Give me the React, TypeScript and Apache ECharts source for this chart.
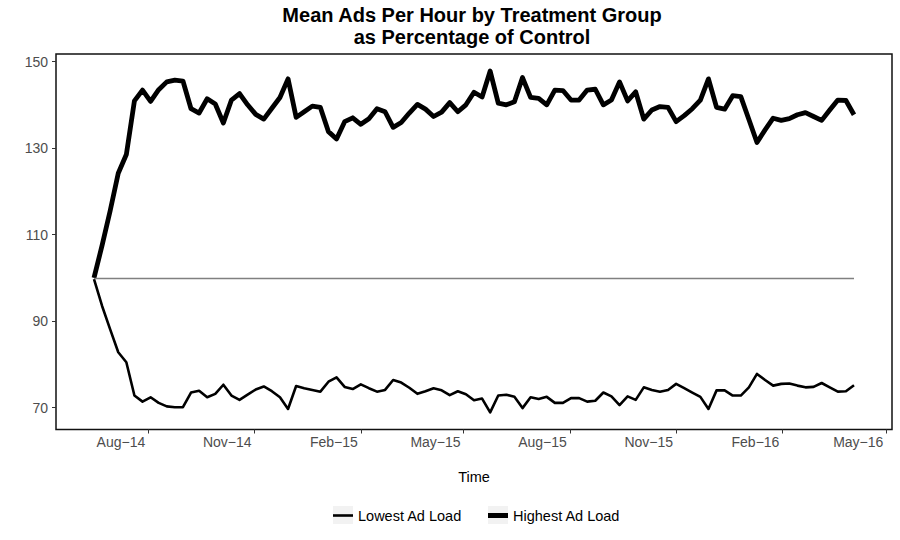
import React, { useEffect, useRef } from "react";
import * as echarts from "echarts";

// Weekly series, first week starting 2014-06-15
const START_DATE = Date.UTC(2014, 5, 15);
const WEEK_MS = 7 * 86400000;

const lowLoad = [
  99.7, 93.5, 88.1, 82.8, 80.5, 72.8, 71.4, 72.4, 71.1, 70.3,
  70.1, 70.1, 73.5, 73.9, 72.4, 73.2, 75.3, 72.8, 71.8, 73.0,
  74.2, 74.9, 73.8, 72.4, 69.7, 75.0, 74.5, 74.1, 73.7, 76.0,
  77.0, 74.8, 74.3, 75.4, 74.5, 73.7, 74.1, 76.4, 75.8, 74.6,
  73.2, 73.8, 74.5, 74.0, 72.9, 73.8, 73.1, 71.7, 72.1, 68.9,
  72.8, 73.0, 72.5, 69.9, 72.4, 72.0, 72.5, 71.1, 71.1, 72.2,
  72.2, 71.4, 71.6, 73.5, 72.6, 70.6, 72.6, 71.8, 74.7, 74.1,
  73.7, 74.1, 75.5, 74.5, 73.5, 72.5, 69.7, 74.0, 74.0, 72.8,
  72.8, 74.7, 77.8, 76.4, 75.1, 75.5, 75.6, 75.1, 74.7, 74.8,
  75.7, 74.7, 73.7, 73.8, 75.2,
];

const highLoad = [
  100.0, 107.5, 115.5, 124.2, 128.5, 140.9, 143.4, 140.8, 143.5, 145.3,
  145.7, 145.5, 139.1, 138.1, 141.4, 140.2, 135.8, 141.1, 142.6, 140.0,
  137.8, 136.7, 139.2, 141.7, 146.0, 137.1, 138.4, 139.7, 139.4, 133.8,
  132.1, 136.1, 137.0, 135.5, 136.8, 139.1, 138.4, 134.8, 135.9, 138.1,
  140.1, 139.0, 137.3, 138.3, 140.5, 138.4, 140.0, 142.9, 141.8, 147.8,
  140.4, 140.0, 140.7, 146.3, 141.7, 141.5, 140.0, 143.4, 143.3, 141.1,
  141.1, 143.4, 143.6, 140.0, 141.1, 145.3, 140.9, 143.0, 136.7, 138.8,
  139.6, 139.4, 136.1, 137.5, 139.1, 141.1, 146.0, 139.4, 139.0, 142.1,
  141.9, 136.6, 131.3, 134.2, 136.9, 136.4, 136.8, 137.7, 138.2, 137.3,
  136.4, 138.8, 141.1, 141.0, 137.7,
];

const CONTROL_LEVEL = 100;

const xTickDates = [
  Date.UTC(2014, 7, 1), Date.UTC(2014, 10, 1), Date.UTC(2015, 1, 1), Date.UTC(2015, 4, 1),
  Date.UTC(2015, 7, 1), Date.UTC(2015, 10, 1), Date.UTC(2016, 1, 1), Date.UTC(2016, 4, 1),
];
const xTickLabels = ["Aug−14", "Nov−14", "Feb−15", "May−15", "Aug−15", "Nov−15", "Feb−16", "May−16"];
const yTicks = [70, 90, 110, 130, 150];

const FONT = "'Liberation Sans', Arial, Helvetica, sans-serif";

export default function App() {
  const ref = useRef<HTMLDivElement>(null);

  useEffect(() => {
    document.body.style.margin = "0";
    if (!ref.current) return;
    const chart = echarts.init(ref.current, null, { renderer: "svg" });

    const dates = highLoad.map((_, i) => START_DATE + i * WEEK_MS);
    const lowData = dates.map((d, i) => [d, lowLoad[i]]);
    const highData = dates.map((d, i) => [d, highLoad[i]]);

    const xRange = dates[dates.length - 1] - dates[0];
    const xMin = dates[0] - 0.05 * xRange;
    const xMax = dates[dates.length - 1] + 0.05 * xRange;
    const all = lowLoad.concat(highLoad);
    const yLo = Math.min(...all);
    const yHi = Math.max(...all);
    const yRange = yHi - yLo;
    const yMin = yLo - 0.05 * yRange;
    const yMax = yHi + 0.05 * yRange;

    const option: any = {
      animation: false,
      backgroundColor: "#ffffff",
      textStyle: { fontFamily: FONT },
      title: {
        text: "Mean Ads Per Hour by Treatment Group\nas Percentage of Control",
        left: 472,
        top: 4,
        padding: 0,
        textAlign: "center",
        textStyle: {
          fontFamily: FONT,
          fontSize: 20,
          fontWeight: "bold",
          color: "#000",
          lineHeight: 22,
        },
      },
      grid: {
        left: 56,
        right: 8,
        top: 54,
        bottom: 110.5,
        show: true,
        borderColor: "#111",
        borderWidth: 1.5,
        backgroundColor: "transparent",
      },
      legend: [
        {
          data: ["Lowest Ad Load"],
          left: 333,
          top: 508,
          padding: 0,
          icon: "rect",
          itemWidth: 20,
          itemHeight: 2.6,
          selectedMode: false,
          textStyle: { fontFamily: FONT, fontSize: 14.5, color: "#000" },
        },
        {
          data: ["Highest Ad Load"],
          left: 488,
          top: 508,
          padding: 0,
          icon: "rect",
          itemWidth: 20,
          itemHeight: 5,
          selectedMode: false,
          textStyle: { fontFamily: FONT, fontSize: 14.5, color: "#000" },
        },
      ],
      graphic: [
        { type: "rect", z: 0, shape: { x: 333, y: 506, width: 20, height: 18 }, style: { fill: "#f2f2f2" }, silent: true },
        { type: "rect", z: 0, shape: { x: 488, y: 506, width: 20, height: 18 }, style: { fill: "#f2f2f2" }, silent: true },
      ],
      xAxis: {
        type: "value",
        min: xMin,
        max: xMax,
        name: "Time",
        nameLocation: "middle",
        nameGap: 40,
        nameTextStyle: { fontFamily: FONT, fontSize: 14.5, color: "#000" },
        axisLine: { show: false },
        splitLine: { show: false },
        axisTick: {
          show: true,
          customValues: xTickDates,
          length: 4,
          lineStyle: { color: "#333", width: 1 },
        },
        axisLabel: {
          customValues: xTickDates,
          formatter: (v: number) => {
            const idx = xTickDates.findIndex((d) => Math.abs(d - v) < 43200000);
            return idx >= 0 ? xTickLabels[idx] : "";
          },
          align: "right",
          padding: [0, 3, 0, 0],
          margin: 5,
          color: "#4d4d4d",
          fontFamily: FONT,
          fontSize: 14,
        },
      },
      yAxis: {
        type: "value",
        min: yMin,
        max: yMax,
        axisLine: { show: false },
        splitLine: { show: false },
        axisTick: {
          show: true,
          customValues: yTicks,
          length: 4,
          lineStyle: { color: "#333", width: 1 },
        },
        axisLabel: {
          customValues: yTicks,
          margin: 8,
          color: "#4d4d4d",
          fontFamily: FONT,
          fontSize: 14,
        },
      },
      series: [
        {
          name: "Lowest Ad Load",
          type: "line",
          data: lowData,
          showSymbol: false,
          symbol: "none",
          lineStyle: { color: "#000", width: 2.6, join: "round" },
          itemStyle: { color: "#000" },
          z: 3,
          markLine: {
            silent: true,
            symbol: "none",
            label: { show: false },
            lineStyle: { color: "#808080", width: 1.3, type: "solid" },
            data: [
              [
                { coord: [dates[0], CONTROL_LEVEL] },
                { coord: [dates[dates.length - 1], CONTROL_LEVEL] },
              ],
            ],
          },
        },
        {
          name: "Highest Ad Load",
          type: "line",
          data: highData,
          showSymbol: false,
          symbol: "none",
          lineStyle: { color: "#000", width: 4.8, join: "round" },
          itemStyle: { color: "#000" },
          z: 4,
        },
      ],
    };

    chart.setOption(option);
    return () => chart.dispose();
  }, []);

  return <div ref={ref} style={{ width: 900, height: 540 }} />;
}
